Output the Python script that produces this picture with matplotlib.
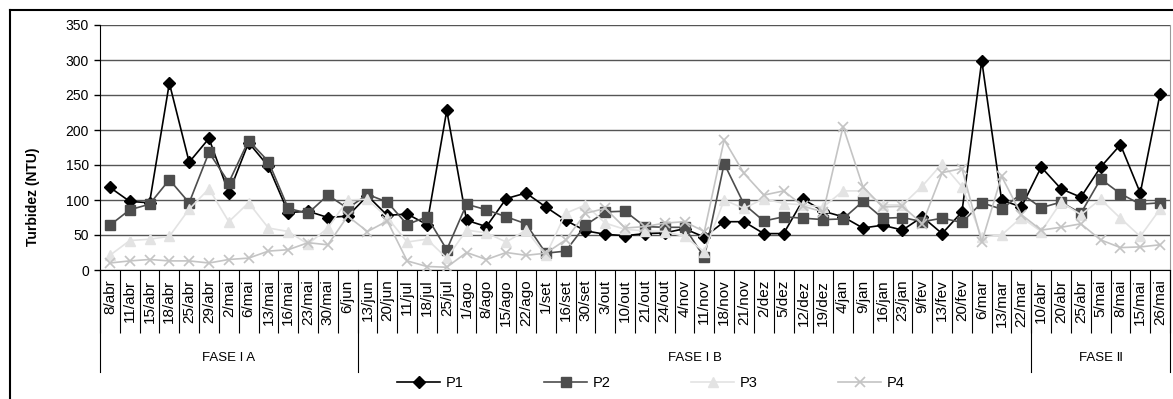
import numpy as np
import matplotlib
matplotlib.use("Agg")
import matplotlib.pyplot as plt
from matplotlib.lines import Line2D
import matplotlib.transforms as mtransforms

plt.rcParams['font.family'] = ['Liberation Sans', 'DejaVu Sans']

categories = ['8/abr', '11/abr', '15/abr', '18/abr', '25/abr', '29/abr', '2/mai', '6/mai',
              '13/mai', '16/mai', '23/mai', '30/mai', '6/jun',
              '13/jun', '20/jun', '11/jul', '18/jul', '25/jul', '1/ago', '8/ago', '15/ago',
              '22/ago', '1/set', '16/set', '30/set', '3/out', '10/out', '21/out', '24/out',
              '4/nov', '11/nov', '18/nov', '21/nov', '2/dez', '5/dez', '12/dez', '19/dez',
              '4/jan', '9/jan', '16/jan', '23/jan', '9/fev', '13/fev', '20/fev', '6/mar',
              '13/mar', '22/mar',
              '10/abr', '20/abr', '25/abr', '5/mai', '8/mai', '15/mai', '26/mai']

p1 = [118, 98, 96, 267, 154, 188, 110, 182, 148, 82, 84, 75, 77,
      106, 78, 80, 65, 228, 71, 62, 102, 110, 90, 71, 56, 51, 49, 52, 53, 59, 47, 69, 69,
      52, 52, 101, 84, 76, 60, 64, 57, 76, 52, 83, 299, 100, 90,
      147, 116, 104, 147, 179, 110, 252]
p2 = [64, 86, 94, 129, 96, 168, 125, 185, 155, 88, 81, 107, 88,
      108, 97, 65, 76, 29, 94, 86, 76, 66, 24, 27, 64, 83, 84, 62, 61, 61, 18, 152, 94,
      70, 76, 74, 72, 73, 98, 74, 75, 69, 74, 68, 96, 87, 109,
      89, 97, 81, 130, 109, 94, 96]
p3 = [21, 42, 44, 48, 87, 116, 69, 96, 60, 55, 37, 60, 100,
      101, 75, 40, 44, 17, 57, 53, 40, 57, 21, 81, 93, 67, 58, 56, 55, 48, 26, 100, 88,
      102, 95, 93, 90, 113, 113, 93, 93, 120, 152, 119, 47, 50, 75,
      55, 97, 79, 101, 74, 48, 87]
p4 = [10, 13, 15, 13, 13, 10, 15, 17, 27, 29, 39, 36, 77,
      55, 70, 13, 5, 4, 25, 15, 25, 21, 24, 43, 81, 88, 60, 62, 67, 69, 55, 186, 138,
      107, 113, 91, 83, 205, 119, 90, 91, 66, 139, 145, 40, 134, 79,
      57, 61, 66, 43, 32, 33, 36]

phases = ['FASE I A', 'FASE I B', 'FASE Ⅱ']
phase_sizes = [13, 34, 7]

W, H = 1173, 399
fig = plt.figure(figsize=(W / 100, H / 100), dpi=100)
ax = fig.add_axes([100 / W, (H - 270) / H, 1070 / W, 245 / H])

x = np.arange(len(categories))
ax.plot(x, p1, color='black', lw=1.2, marker='D', ms=6, mfc='black', mec='black', label='P1', zorder=3)
ax.plot(x, p2, color='#4d4d4d', lw=1.2, marker='s', ms=7, mfc='#4d4d4d', mec='#4d4d4d', label='P2', zorder=4)
ax.plot(x, p3, color='#e3e3e3', lw=1.2, marker='^', ms=7, mfc='#e3e3e3', mec='#e3e3e3', label='P3', zorder=5)
ax.plot(x, p4, color='#c4c4c4', lw=1.2, marker='x', ms=7, mew=1.2, mec='#c4c4c4', label='P4', zorder=6)

ax.set_xlim(-0.5, len(categories) - 0.5)
ax.set_ylim(0, 350)
ax.set_yticks(np.arange(0, 351, 50))
ax.yaxis.grid(True, color='#555555', lw=1)
ax.set_axisbelow(True)
ax.tick_params(axis='y', length=4, width=1, pad=4, labelsize=10)

ax.set_xticks(x)
ax.set_xticklabels(categories, rotation=90, fontsize=11)
ax.set_xticks(np.arange(-0.5, len(categories), 1), minor=True)
ax.tick_params(axis='x', which='major', length=0, pad=7)
ax.tick_params(axis='x', which='minor', length=45, width=0.8, color='black')

ax.spines['top'].set_visible(False)
ax.spines['right'].set_color('#999999')
ax.spines['left'].set_color('black')
ax.spines['bottom'].set_color('black')

ax.set_ylabel('Turbidez (NTU)', fontsize=10, fontweight='bold')
ax.yaxis.set_label_coords(-0.056, 0.3)

trans = mtransforms.blended_transform_factory(ax.transData, ax.transAxes)
start = -0.5
bounds = [start]
for name, n in zip(phases, phase_sizes):
    end = start + n
    ax.text((start + end) / 2, -0.36, name, transform=trans, ha='center', va='center', fontsize=9.5)
    start = end
    bounds.append(end)
for b in bounds:
    ax.plot([b, b], [0, -0.416], transform=trans, clip_on=False, color='black', lw=0.8)

fig.legend(loc='center', bbox_to_anchor=(651 / W, 16 / H), ncol=4, frameon=False,
           handlelength=2.95, handletextpad=0.4, columnspacing=5.5, fontsize=10.5)

fig.add_artist(Line2D([10 / W, 10 / W], [0, (H - 10) / H], color='black', lw=1.5, transform=fig.transFigure))
fig.add_artist(Line2D([10 / W, 1], [(H - 10) / H, (H - 10) / H], color='black', lw=1.5, transform=fig.transFigure))

fig.savefig('out.png', dpi=100)
